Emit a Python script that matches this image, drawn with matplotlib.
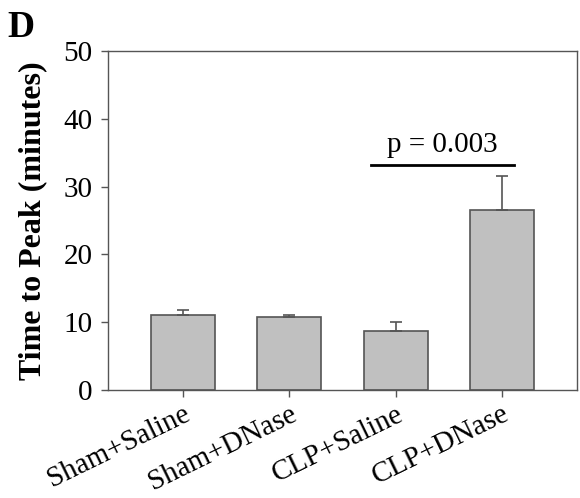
import matplotlib
matplotlib.use("Agg")
import matplotlib.pyplot as plt
import numpy as np

categories = ["Sham+Saline", "Sham+DNase", "CLP+Saline", "CLP+DNase"]
means = [11.1, 10.7, 8.7, 26.5]
sem = [0.7, 0.3, 1.3, 5.1]
yticks = [0, 10, 20, 30, 40, 50]
p_text = "p = 0.003"
p_level = 33.2

plt.rcParams["font.family"] = ["Liberation Serif", "DejaVu Serif"]

fig = plt.figure(figsize=(5.8, 4.98), dpi=100)
ax = fig.add_axes([108 / 580, 1 - 390 / 498, 469 / 580, 339 / 498])

x = np.arange(len(categories))
edge = "#555555"
ax.bar(x, means, width=0.6, color="#c0c0c0", edgecolor=edge, linewidth=1.2, zorder=2)
ax.errorbar(x, means, yerr=[np.zeros(len(sem)), sem], fmt="none",
            ecolor=edge, elinewidth=1.2, capsize=4, capthick=1.2, zorder=3)

ax.set_xlim(-0.7, 3.7)
ax.set_ylim(0, 50)
ax.set_yticks(yticks)
ax.set_xticks(x)
ax.set_xticklabels(categories, rotation=26, ha="right", rotation_mode="anchor",
                   fontsize=21)
ax.tick_params(axis="y", labelsize=21, direction="out", length=5, width=1,
               color=edge, pad=6)
ax.tick_params(axis="x", direction="out", length=5, width=1, color=edge, pad=3)
for s in ax.spines.values():
    s.set_color(edge)
    s.set_linewidth(1)

ax.set_ylabel("Time to Peak (minutes)", fontsize=23, fontweight="bold", labelpad=12)

# significance bar between CLP groups
ax.plot([1.77, 3.11], [p_level, p_level], color="black", lw=2, zorder=4)
ax.text(2.44, p_level + 1.0, p_text, ha="center", va="bottom", fontsize=21)

fig.text(7 / 580, 1 - 37 / 498, "D", fontsize=27, fontweight="bold",
         ha="left", va="baseline")

fig.savefig("out.png", dpi=100)
